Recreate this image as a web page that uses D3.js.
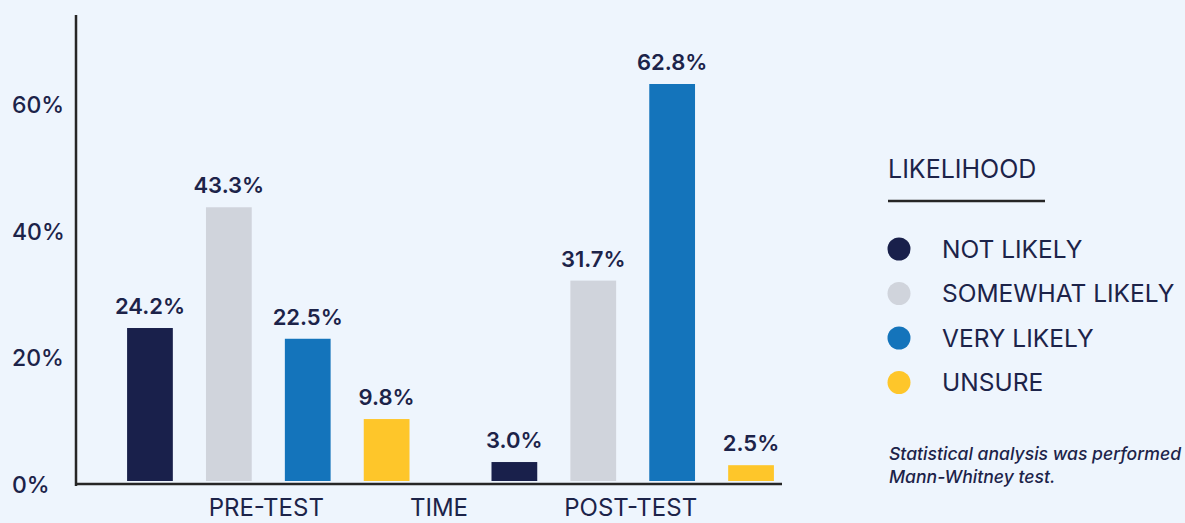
<!DOCTYPE html>
<html>
<head>
<meta charset="utf-8">
<script src="https://cdn.jsdelivr.net/npm/d3@7"></script>
<style>
  html, body { margin: 0; padding: 0; background: #eef5fd; }
  svg { display: block; font-family: Inter, "Noto Sans", sans-serif; }
</style>
</head>
<body>
<div id="chart"></div>
<script>
var groups = ["PRE-TEST", "POST-TEST"];
var series = ["NOT LIKELY", "SOMEWHAT LIKELY", "VERY LIKELY", "UNSURE"];
var colors = ["#19204b", "#d0d4dc", "#1474bb", "#fec62a"];
var preTest = [24.2, 43.3, 22.5, 9.8];
var postTest = [3.0, 31.7, 62.8, 2.5];
var yTicks = [0, 20, 40, 60];
var footnote = ["Statistical analysis was performed", "Mann-Whitney test."];

var W = 1185, H = 523;
var textColor = "#1c2349";
var axisColor = "#262626";

var svg = d3.select("#chart").append("svg")
            .attr("width", W)
            .attr("height", H);

var values = [preTest, postTest];
var rows = [];
groups.forEach(function(g, gi){
  series.forEach(function(s, si){
    rows.push({group: g, series: s, value: values[gi][si], color: colors[si]});
  });
});

var x0 = d3.scaleBand().domain(groups).range([87, 814])
           .paddingInner(0.225).paddingOuter(0.11);
var x1 = d3.scaleBand().domain(series).range([0, x0.bandwidth()])
           .paddingInner(0.42).paddingOuter(0);
var y = d3.scaleLinear().domain([0, 62.8]).range([481, 84]);

// y axis labels (left aligned)
var yAxis = d3.axisLeft(y).tickValues(yTicks).tickSize(0)
              .tickFormat(function(d){ return d + "%"; });
var gy = svg.append("g").call(yAxis);
gy.select(".domain").remove();
gy.selectAll("text")
  .attr("x", 12)
  .attr("dy", "0.48em")
  .attr("text-anchor", "start")
  .attr("fill", textColor)
  .style("font-family", "Inter, sans-serif")
  .style("font-size", "23px")
  .style("font-weight", 500);

// bars
svg.append("g").selectAll("rect")
   .data(rows)
   .enter()
   .append("rect")
   .attr("x", function(d){ return x0(d.group) + x1(d.series); })
   .attr("y", function(d){ return y(d.value); })
   .attr("width", x1.bandwidth())
   .attr("height", function(d){ return y(0) - y(d.value); })
   .attr("fill", function(d){ return d.color; });

// value labels
svg.append("g").selectAll("text")
   .data(rows)
   .enter()
   .append("text")
   .attr("x", function(d){ return x0(d.group) + x1(d.series) + x1.bandwidth()/2; })
   .attr("y", function(d){ return y(d.value) - 14; })
   .attr("text-anchor", "middle")
   .attr("fill", textColor)
   .style("font-size", "22px")
   .style("font-weight", 600)
   .text(function(d){ return d.value.toFixed(1) + "%"; });

// axis lines
svg.append("line")
   .attr("x1", 76).attr("x2", 76)
   .attr("y1", 15).attr("y2", 486)
   .attr("stroke", axisColor).attr("stroke-width", 2.5);
svg.append("line")
   .attr("x1", 75).attr("x2", 782)
   .attr("y1", 484).attr("y2", 484)
   .attr("stroke", axisColor).attr("stroke-width", 2.5);

// category labels
svg.append("g").selectAll("text")
   .data(groups)
   .enter()
   .append("text")
   .attr("x", function(d){ return x0(d) + x0.bandwidth()/2 - 2; })
   .attr("y", 516)
   .attr("text-anchor", "middle")
   .attr("fill", textColor)
   .style("font-size", "24px")
   .text(function(d){ return d; });

svg.append("text")
   .attr("x", 439).attr("y", 516)
   .attr("text-anchor", "middle")
   .attr("fill", textColor)
   .style("font-size", "24px")
   .text("TIME");

// legend
var legend = svg.append("g");
legend.append("text")
      .attr("x", 888).attr("y", 178)
      .attr("fill", textColor)
      .style("font-size", "25px")
      .text("LIKELIHOOD");
legend.append("line")
      .attr("x1", 888).attr("x2", 1045)
      .attr("y1", 201).attr("y2", 201)
      .attr("stroke", axisColor).attr("stroke-width", 2.5);

var items = legend.selectAll("g.item")
      .data(series)
      .enter()
      .append("g")
      .attr("class", "item")
      .attr("transform", function(d, i){ return "translate(0," + (249 + i*44.5) + ")"; });
items.append("circle")
     .attr("cx", 899).attr("cy", 0).attr("r", 11.5)
     .attr("fill", function(d, i){ return colors[i]; });
items.append("text")
     .attr("x", 942).attr("y", 0).attr("dy", "0.36em")
     .attr("fill", textColor)
     .style("font-size", "24.5px")
     .text(function(d){ return d; });

// footnote
svg.append("g").selectAll("text")
   .data(footnote)
   .enter()
   .append("text")
   .attr("x", 889)
   .attr("y", function(d, i){ return 460 + i*23; })
   .attr("fill", textColor)
   .style("font-size", "17.6px")
   .style("font-style", "italic")
   .style("font-weight", 500)
   .text(function(d){ return d; });
</script>
</body>
</html>
